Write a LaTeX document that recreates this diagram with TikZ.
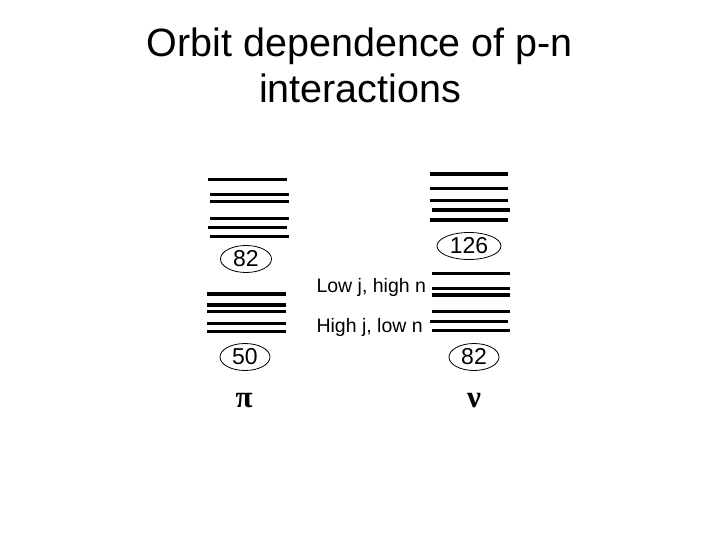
\documentclass[tikz,border=0pt]{standalone}
\usepackage{fontspec}
\setmainfont{Liberation Sans}
\newfontfamily\greekfont{Liberation Serif}
\usetikzlibrary{shapes.geometric}
\definecolor{ink}{HTML}{000000}
\tikzset{
  level/.style={ink, line width=3.5pt},
  magic/.style={draw=ink, ellipse, line width=0.8pt, minimum height=27pt, inner sep=0pt,
    font=\fontsize{23}{23}\selectfont},
  note/.style={anchor=base west, font=\fontsize{19.5}{19.5}\selectfont},
  heading/.style={anchor=base, font=\fontsize{39.5}{39.5}\selectfont},
  particle/.style={font=\greekfont\bfseries\fontsize{31}{31}\selectfont}
}

\begin{document}
\begin{tikzpicture}[x=1pt,y=-1pt]
  \useasboundingbox (0,0) rectangle (720,540);
  \node[heading] (title) at (360,57) {Orbit dependence of p-n};
  \node[heading] (subtitle) at (360,103) {interactions};
  % proton levels
  \foreach \y/\a in {179.7/208,194.3/210,201.7/210,218.3/210,227.7/208,236.7/210,
                     294/207,305/207,311.7/207,323.3/207,331.7/207}{
    \draw[level] (\a,\y) -- (\a+79,\y);
  }
  % neutron levels
  \foreach \y/\a in {174/430,188.3/430,200.7/430,210/432,220/430,
                     273.3/432,288.3/432,295/432,311.7/432,321.7/430,330.7/432}{
    \draw[level] (\a,\y) -- (\a+78,\y);
  }
  \node[magic, minimum width=51pt] (p82) at (246,259) {82};
  \node[magic, minimum width=50pt] (p50) at (245,357) {50};
  \node[magic, minimum width=64pt] (n126) at (469,246) {126};
  \node[magic, minimum width=50pt] (n82) at (474,357) {82};
  \node[note] (lowj) at (313,292) {Low j, high n};
  \node[note] (highj) at (313,332) {High j, low n};
  \node[particle] (pi) at (244,401) {π};
  \node[particle] (nu) at (474,401) {ν};
\end{tikzpicture}
\end{document}
